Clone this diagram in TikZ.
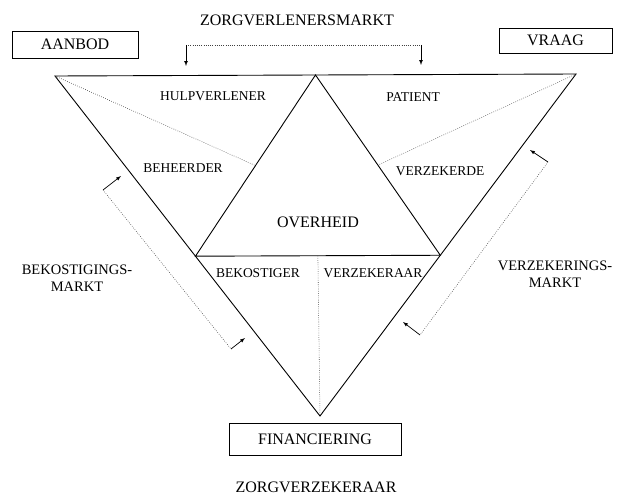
\documentclass[tikz,border=0pt]{standalone}
\usepackage{fontspec}
\setmainfont{Liberation Serif}
\usetikzlibrary{calc, positioning}

\tikzset{
  hokhung/.style={draw, line width=0.8pt, inner sep=0pt, font=\fontsize{16}{19}\selectfont},
  groot/.style={inner sep=0pt, font=\fontsize{16}{19}\selectfont},
  nhan/.style={inner sep=0pt, font=\fontsize{13.5}{16}\selectfont},
  thitruong/.style={inner sep=0pt, align=center, font=\fontsize{14.5}{17.5}\selectfont},
  canh/.style={line width=0.9pt},
  cham/.style={black!75, line width=0.55pt, dash pattern=on 0.7pt off 1.5pt},
  muiten/.style={->, line width=0.7pt}
}

\begin{document}
\begin{tikzpicture}[x=1pt, y=-1pt, >=latex]
    \useasboundingbox (0,0) rectangle (619,495);

    % 1. Các đỉnh tam giác
    \coordinate (L) at (55,76);
    \coordinate (R) at (576,74);
    \coordinate (B) at (320,416);
    \coordinate (T) at ($(L)!0.5!(R)$);
    \coordinate (ML) at ($(L)!0.53!(B)$);
    \coordinate (MR) at ($(R)!0.53!(B)$);

    % 2. Tam giác lớn và tam giác giữa
    \draw[canh] (L) -- (R) -- (B) -- cycle;
    \draw[canh] (T) -- (ML) -- (MR) -- cycle;

    % 3. Các đường chấm bên trong
    \draw[cham] (L) -- ($(T)!0.5!(ML)$);
    \draw[cham] (R) -- ($(T)!0.5!(MR)$);
    \draw[cham] ($(ML)!0.5!(MR)$) -- (B);

    % 4. Các hộp và tiêu đề
    \node[hokhung, minimum width=126pt, minimum height=27pt] (aanbod) at (75,44.5) {AANBOD};
    \node[hokhung, minimum width=113pt, minimum height=25pt] (vraag) at (555.5,40.5) {VRAAG};
    \node[hokhung, minimum width=172pt, minimum height=32pt] (fin) at (315,439) {FINANCIERING};
    \node[groot] (zvmarkt) at (297,20) {ZORGVERLENERSMARKT};
    \node[groot] (zverz) at (316,487) {ZORGVERZEKERAAR};

    % 5. Nhãn trong tam giác
    \node[nhan] (hulp) at (213,96) {HULPVERLENER};
    \node[nhan] (patient) at (413,97) {PATIENT};
    \node[nhan] (beheer) at (183,168) {BEHEERDER};
    \node[nhan] (verzekerde) at (440,171) {VERZEKERDE};
    \node[groot] (overheid) at (318,222) {OVERHEID};
    \node[nhan] (bekostiger) at (258,273) {BEKOSTIGER};
    \node[nhan] (verzekeraar) at (373,273) {VERZEKERAAR};
    \node[thitruong] (bekmarkt) at (77,278) {BEKOSTIGINGS-\\MARKT};
    \node[thitruong] (verzmarkt) at (555,274) {VERZEKERINGS-\\MARKT};

    % 6. Mũi tên trên cùng
    \coordinate (zl) at (186,45);
    \coordinate (zr) at (421,45);
    \coordinate (zlt) at (186,66);
    \coordinate (zrt) at (421,65);
    \draw[cham] (zl) -- (zr);
    \draw[muiten] (zl) -- (zlt);
    \draw[muiten] (zr) -- (zrt);

    % 7. Mũi tên bên trái
    \coordinate (bl1) at (103,190);
    \coordinate (bl1t) at (121,176);
    \coordinate (bl2) at (231,349);
    \coordinate (bl2t) at (245,338);
    \draw[cham] (bl1) -- (bl2);
    \draw[muiten] (bl1) -- (bl1t);
    \draw[muiten] (bl2) -- (bl2t);

    % 8. Mũi tên bên phải
    \coordinate (vr1) at (548,162);
    \coordinate (vr1t) at (530,150);
    \coordinate (vr2) at (420,335);
    \coordinate (vr2t) at (403,322);
    \draw[cham] (vr1) -- (vr2);
    \draw[muiten] (vr1) -- (vr1t);
    \draw[muiten] (vr2) -- (vr2t);

\end{tikzpicture}
\end{document}
